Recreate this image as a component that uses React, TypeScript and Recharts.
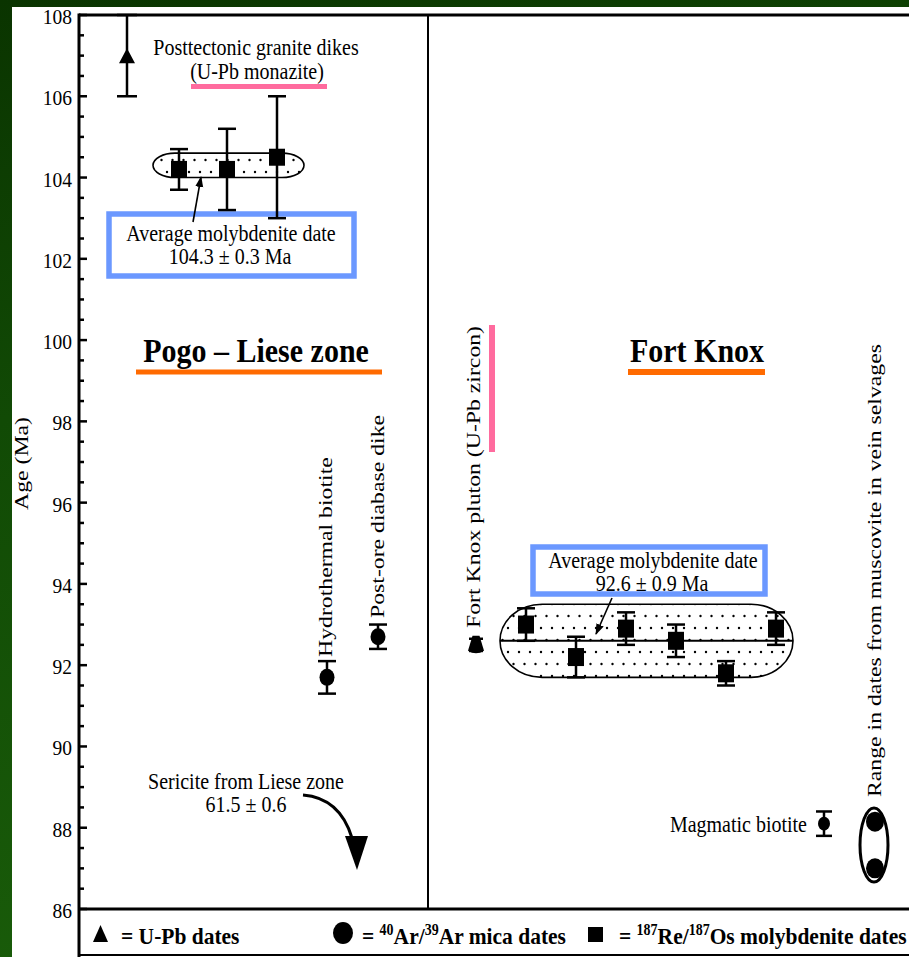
import React from "react";
import { ScatterChart, Scatter, XAxis, YAxis, ErrorBar, Customized } from "recharts";

// chart geometry (the plot area is fixed so the overlay matches the scales)
const W = 909;
const H = 957;
const PLOT_L = 79;
const PLOT_T = 15;
const PLOT_R = 909;
const PLOT_B = 909;
const X_MAX = 83;
const Y_MIN = 86;
const Y_MAX = 108;

const sx = (u: number) => PLOT_L + (u / X_MAX) * (PLOT_R - PLOT_L);
const sy = (v: number) => PLOT_T + ((Y_MAX - v) / (Y_MAX - Y_MIN)) * (PLOT_B - PLOT_T);

const MAJOR_TICKS = [86, 88, 90, 92, 94, 96, 98, 100, 102, 104, 106, 108];
const ALL_TICKS = [
  86, 86.5, 87, 87.5, 88, 88.5, 89, 89.5, 90, 90.5, 91, 91.5, 92, 92.5, 93, 93.5,
  94, 94.5, 95, 95.5, 96, 96.5, 97, 97.5, 98, 98.5, 99, 99.5, 100, 100.5, 101,
  101.5, 102, 102.5, 103, 103.5, 104, 104.5, 105, 105.5, 106, 106.5, 107, 107.5, 108,
];

// Pogo - Liese zone
const pogoUPb = [{ x: 4.8, y: 107.0, e: 1.0 }];
const pogoReOs = [
  { x: 10.0, y: 104.2, e: 0.5 },
  { x: 14.8, y: 104.2, e: 1.0 },
  { x: 19.8, y: 104.5, e: 1.5 },
];
const pogoArAr = [
  { x: 24.8, y: 91.7, e: 0.4 },
  { x: 29.9, y: 92.7, e: 0.3 },
];
const pogoAvg = { mean: 104.3, err: 0.3 };

// Fort Knox
const fkUPb = [{ x: 39.7, y: 92.5, e: 0.15 }];
const fkReOs = [
  { x: 44.7, y: 93.0, e: 0.4 },
  { x: 49.7, y: 92.2, e: 0.5 },
  { x: 54.7, y: 92.9, e: 0.4 },
  { x: 59.7, y: 92.6, e: 0.4 },
  { x: 64.7, y: 91.8, e: 0.3 },
  { x: 69.7, y: 92.9, e: 0.4 },
];
const fkArAr = [{ x: 74.5, y: 88.1, e: 0.3 }];
const fkMuscRange = [
  { x: 79.6, y: 88.15 },
  { x: 79.6, y: 87.0 },
];
const fkAvg = { mean: 92.6, err: 0.9 };

const FONT = "'Liberation Serif', 'Times New Roman', serif";
const BLUE = "#6b98ff";
const PINK = "#ff6b9e";
const ORANGE = "#ff6a00";

function T({ x, y, size = 20, bold = false, anchor = "middle", rot = false, children }: any) {
  const tf = rot
    ? `translate(${x},${y}) rotate(-90) scale(1.32,1)`
    : `translate(${x},${y}) scale(1,1.12)`;
  return (
    <text
      transform={tf}
      fontFamily={FONT}
      fontSize={size}
      fontWeight={bold ? 700 : 400}
      textAnchor={anchor}
      fill="#000"
    >
      {children}
    </text>
  );
}

const tri = (w: number, h: number) => (p: any) => (
  <polygon
    points={`${p.cx},${p.cy - h / 2} ${p.cx + w / 2},${p.cy + h / 2} ${p.cx - w / 2},${p.cy + h / 2}`}
    fill="#000"
  />
);
const bell = (p: any) => (
  <path
    d={`M${p.cx - 3.5},${p.cy - 9} L${p.cx + 3.5},${p.cy - 9} L${p.cx + 8},${p.cy + 6} Q${p.cx},${p.cy + 11} ${p.cx - 8},${p.cy + 6} Z`}
    fill="#000"
  />
);
const sq = (w: number, h: number) => (p: any) => (
  <rect x={p.cx - w / 2} y={p.cy - h / 2} width={w} height={h} fill="#000" />
);
const dot = (rx: number, ry: number) => (p: any) => (
  <ellipse cx={p.cx} cy={p.cy} rx={rx} ry={ry} fill="#000" />
);

function YTick(props: any) {
  const v = props.payload.value;
  const y = props.y;
  const major = MAJOR_TICKS.includes(v);
  return (
    <g>
      <line x1={PLOT_L} x2={PLOT_L + (major ? 8 : 5)} y1={y} y2={y} stroke="#000" strokeWidth={2.5} />
      {major && (
        <T x={PLOT_L - 7} y={y + 9} size={19.5} anchor="end">
          {v}
        </T>
      )}
    </g>
  );
}

function Pills() {
  const pTop = sy(pogoAvg.mean + pogoAvg.err);
  const pBot = sy(pogoAvg.mean - pogoAvg.err);
  const fTop = sy(fkAvg.mean + fkAvg.err);
  const fBot = sy(fkAvg.mean - fkAvg.err);
  return (
    <g>
      <defs>
        <pattern id="stipple" width={11} height={24} patternUnits="userSpaceOnUse">
          <circle cx={2} cy={4} r={1.2} fill="#000" />
          <circle cx={7.5} cy={16} r={1.2} fill="#000" />
        </pattern>
      </defs>
      <rect
        x={sx(7.4)}
        y={pTop}
        width={sx(22.5) - sx(7.4)}
        height={pBot - pTop}
        rx={22}
        ry={(pBot - pTop) / 2}
        fill="url(#stipple)"
        stroke="#000"
        strokeWidth={1.6}
      />
      <rect
        x={sx(42.1)}
        y={fTop}
        width={sx(71.4) - sx(42.1)}
        height={fBot - fTop}
        rx={42}
        ry={(fBot - fTop) / 2}
        fill="url(#stipple)"
        stroke="#000"
        strokeWidth={1.6}
      />
      <line x1={sx(42.1)} x2={sx(71.4)} y1={sy(fkAvg.mean)} y2={sy(fkAvg.mean)} stroke="#000" strokeWidth={2} />
    </g>
  );
}

function Overlay() {
  return (
    <g>
      <defs>
        <marker id="ah" markerWidth={11} markerHeight={10} refX={10} refY={5} orient="auto" markerUnits="userSpaceOnUse">
          <path d="M0,1 L11,5 L0,9 Z" fill="#000" />
        </marker>
      </defs>

      {/* frame */}
      <line x1={PLOT_L} x2={PLOT_R} y1={PLOT_T} y2={PLOT_T} stroke="#000" strokeWidth={3} />
      <line x1={PLOT_L} x2={PLOT_L} y1={PLOT_T - 1.5} y2={H} stroke="#000" strokeWidth={3} />
      <line x1={PLOT_L} x2={PLOT_R} y1={PLOT_B} y2={PLOT_B} stroke="#000" strokeWidth={3} />
      <line x1={sx(34.9)} x2={sx(34.9)} y1={PLOT_T} y2={PLOT_B} stroke="#000" strokeWidth={2} />
      <line x1={PLOT_L} x2={PLOT_R} y1={955} y2={955} stroke="#000" strokeWidth={2} />

      <T x={28} y={510} size={18} anchor="start" rot>
        Age (Ma)
      </T>

      {/* Pogo side */}
      <T x={256} y={55}>Posttectonic granite dikes</T>
      <T x={257} y={79}>(U-Pb monazite)</T>
      <rect x={191} y={84} width={136} height={5} fill={PINK} />

      <rect x={109} y={214} width={245} height={62} fill="none" stroke={BLUE} strokeWidth={5.5} />
      <T x={231} y={241}>Average molybdenite date</T>
      <T x={230} y={264}>{`${pogoAvg.mean} ± ${pogoAvg.err} Ma`}</T>
      <line x1={193} y1={222} x2={201} y2={177} stroke="#000" strokeWidth={1.6} markerEnd="url(#ah)" />

      <T x={256} y={362} size={30} bold>
        Pogo – Liese zone
      </T>
      <rect x={136} y={369.5} width={246} height={5} fill={ORANGE} />

      <T x={332} y={657} size={18} anchor="start" rot>
        Hydrothermal biotite
      </T>
      <T x={384} y={618} size={18} anchor="start" rot>
        Post-ore diabase dike
      </T>

      <T x={246} y={789}>Sericite from Liese zone</T>
      <T x={246} y={812}>61.5 ± 0.6</T>
      <path d="M303,795 Q340,798 352,838" fill="none" stroke="#000" strokeWidth={3} />
      <polygon points="345,836 368,836 357,870" fill="#000" />

      {/* Fort Knox side */}
      <T x={480} y={628} size={18} anchor="start" rot>
        Fort Knox pluton (U-Pb zircon)
      </T>
      <rect x={489} y={325} width={6} height={127} fill={PINK} />

      <T x={697} y={362} size={30} bold>
        Fort Knox
      </T>
      <rect x={628} y={369} width={137} height={6} fill={ORANGE} />

      <rect x={533} y={547} width={232} height={47} fill="none" stroke={BLUE} strokeWidth={5.5} />
      <T x={653} y={568}>Average molybdenite date</T>
      <T x={652} y={591}>{`${fkAvg.mean} ± ${fkAvg.err} Ma`}</T>
      <line x1={612} y1={598} x2={596} y2={634} stroke="#000" strokeWidth={1.6} markerEnd="url(#ah)" />

      <T x={807} y={832} anchor="end">
        Magmatic biotite
      </T>
      <ellipse cx={874} cy={(sy(fkMuscRange[0].y) + sy(fkMuscRange[1].y)) / 2} rx={14} ry={37} fill="none" stroke="#000" strokeWidth={3} />
      <T x={881} y={797} size={18} anchor="start" rot>
        Range in dates from muscovite in vein selvages
      </T>

      {/* legend */}
      <polygon points="100.5,925 108,942 93,942" fill="#000" />
      <T x={121} y={944} size={21.5} bold anchor="start">
        = U-Pb dates
      </T>
      <ellipse cx={343} cy={933} rx={10} ry={11} fill="#000" />
      <T x={362} y={944} size={21.5} bold anchor="start">
        {"= "}
        <tspan dy={-8} fontSize={14}>40</tspan>
        <tspan dy={8}>Ar/</tspan>
        <tspan dy={-8} fontSize={14}>39</tspan>
        <tspan dy={8}>Ar mica dates</tspan>
      </T>
      <rect x={588} y={927} width={15} height={15} fill="#000" />
      <T x={619} y={944} size={21.5} bold anchor="start">
        {"= "}
        <tspan dy={-8} fontSize={14}>187</tspan>
        <tspan dy={8}>Re/</tspan>
        <tspan dy={-8} fontSize={14}>187</tspan>
        <tspan dy={8}>Os molybdenite dates</tspan>
      </T>
    </g>
  );
}

function Err({ w = 10 }: { w?: number }) {
  return (
    <ErrorBar dataKey="e" direction="y" width={w} stroke="#000" strokeWidth={2.5} isAnimationActive={false} />
  );
}

export default function App() {
  return (
    <div
      style={{
        position: "absolute",
        left: 0,
        top: 0,
        width: W,
        height: H,
        overflow: "hidden",
        background: "linear-gradient(165deg, #0a3400 0%, #114a05 35%, #1c620b 100%)",
      }}
    >
      <div style={{ position: "absolute", left: 12, top: 7, width: W - 12, height: H - 7, background: "#fff" }} />
      <div style={{ position: "absolute", left: 0, top: 0 }}>
        <ScatterChart width={W} height={H} margin={{ top: PLOT_T, right: W - PLOT_R, bottom: H - PLOT_B, left: 0 }}>
          <XAxis type="number" dataKey="x" domain={[0, X_MAX]} hide allowDataOverflow />
          <YAxis
            type="number"
            dataKey="y"
            domain={[Y_MIN, Y_MAX]}
            ticks={ALL_TICKS}
            interval={0}
            width={PLOT_L}
            tickSize={0}
            tickMargin={7}
            axisLine={false}
            tick={<YTick />}
            allowDataOverflow
          />
          <Customized component={<Pills />} />
          <Scatter data={pogoUPb} shape={tri(16, 15)} isAnimationActive={false}>
            {Err({})}
          </Scatter>
          <Scatter data={pogoReOs} shape={sq(16, 17)} isAnimationActive={false}>
            {Err({ w: 9 })}
          </Scatter>
          <Scatter data={pogoArAr} shape={dot(7.5, 8.5)} isAnimationActive={false}>
            {Err({ w: 9 })}
          </Scatter>
          <Scatter data={fkUPb} shape={bell} isAnimationActive={false}>
            {Err({ w: 7 })}
          </Scatter>
          <Scatter data={fkReOs} shape={sq(16, 18)} isAnimationActive={false}>
            {Err({ w: 9 })}
          </Scatter>
          <Scatter data={fkArAr} shape={dot(6, 7)} isAnimationActive={false}>
            {Err({ w: 8 })}
          </Scatter>
          <Scatter data={fkMuscRange} shape={dot(9, 10)} isAnimationActive={false} />
          <Customized component={<Overlay />} />
        </ScatterChart>
      </div>
    </div>
  );
}
